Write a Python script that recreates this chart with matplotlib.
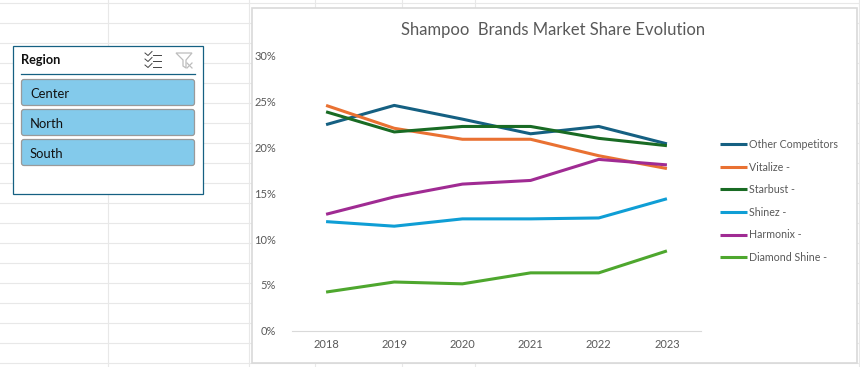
import matplotlib
matplotlib.use('Agg')
import matplotlib.pyplot as plt
from matplotlib.patches import Rectangle, FancyBboxPatch, Polygon
from matplotlib.ticker import PercentFormatter

years = ['2018', '2019', '2020', '2021', '2022', '2023']
other = [22.5, 24.6, 23.1, 21.5, 22.3, 20.4]
vitalize = [24.6, 22.1, 20.9, 20.9, 19.1, 17.7]
starbust = [23.9, 21.7, 22.3, 22.3, 21.0, 20.2]
shinez = [11.9, 11.4, 12.2, 12.2, 12.3, 14.4]
harmonix = [12.7, 14.6, 16.0, 16.4, 18.7, 18.1]
diamond = [4.2, 5.3, 5.1, 6.3, 6.3, 8.7]
series_names = ['Other Competitors', 'Vitalize -', 'Starbust -', 'Shinez -', 'Harmonix -', 'Diamond Shine -']
regions = ['Center', 'North', 'South']

colors = ['#156082', '#E97132', '#196B24', '#0F9ED5', '#A02B93', '#4EA72E']
W, H = 860, 367
GREY = '#595959'

plt.rcParams['font.family'] = ['Lato', 'DejaVu Sans']
fig = plt.figure(figsize=(W / 100, H / 100), dpi=100)

# whole figure in pixels, y going down, for the sheet and the slicer
bg = fig.add_axes([0, 0, 1, 1])
bg.set_xlim(0, W)
bg.set_ylim(H, 0)
bg.axis('off')

for y in range(2, H, 20):
    bg.plot([0, W], [y + 0.5, y + 0.5], color='#E8E8E8', lw=0.8, zorder=1)
for x in [107, 248, 314, 401, 474, 858]:
    bg.plot([x + 0.5, x + 0.5], [0, H], color='#E8E8E8', lw=0.8, zorder=1)

# chart area
bg.add_patch(Rectangle((251.5, 7.5), 605, 355, fc='white', ec='#D9D9D9', lw=1.2, zorder=2))
bg.text(553.5, 30, 'Shampoo  Brands Market Share Evolution', ha='center', va='center',
        fontsize=12, color=GREY, zorder=3)

# slicer
bg.add_patch(Rectangle((12.5, 45.5), 190.5, 148, fc='white', ec='#156082', lw=0.9, zorder=2))
bg.text(21, 60.5, 'Region', ha='left', va='center', fontsize=9.2, fontweight='bold', color='#111111', zorder=3)
bg.plot([21, 195], [73.5, 73.5], color='#156082', lw=0.9, zorder=3)
for i, name in enumerate(regions):
    top = 79.5 + i * 30
    bg.add_patch(FancyBboxPatch((21.5, top), 173, 26, boxstyle='round,pad=0,rounding_size=2.5',
                                fc='#83CAEB', ec='#9A9A9A', lw=0.9, zorder=3))
    bg.text(30, top + 14, name, ha='left', va='center', fontsize=9.4, color='#111111', zorder=4)

# select icon
for y in [54.5, 60.5, 66.5]:
    bg.plot([145, 148, 152], [y - 1.5, y + 1, y - 3], color='#444444', lw=0.7, zorder=3)
    bg.plot([153, 161], [y, y], color='#444444', lw=0.7, zorder=3)
# clear filter icon
bg.add_patch(Polygon([(176, 53), (192, 53), (186, 60), (186, 68), (183, 66), (183, 60)],
                     closed=True, fc='white', ec='#BDBDBD', lw=0.9, zorder=3))
bg.plot([187, 192], [63, 68], color='#BDBDBD', lw=0.9, zorder=4)
bg.plot([192, 187], [63, 68], color='#BDBDBD', lw=0.9, zorder=4)

# the line chart
left, right, top, bottom = 292, 701, 56, 330.5
ax = fig.add_axes([left / W, 1 - bottom / H, (right - left) / W, (bottom - top) / H])
ax.patch.set_alpha(0)
series = [other, vitalize, starbust, shinez, harmonix, diamond]
for vals, name, c in zip(series, series_names, colors):
    ax.plot(years, vals, color=c, lw=2.2, label=name, solid_capstyle='butt', solid_joinstyle='round')

ax.set_xlim(-0.5, 5.5)
ax.set_ylim(0, 30)
ax.set_yticks([0, 5, 10, 15, 20, 25, 30])
ax.yaxis.set_major_formatter(PercentFormatter(decimals=0))
for s in ['top', 'right', 'left']:
    ax.spines[s].set_visible(False)
ax.spines['bottom'].set_color('#D9D9D9')
ax.tick_params(axis='both', length=0, colors=GREY, labelsize=8)
ax.tick_params(axis='x', pad=6)
ax.tick_params(axis='y', pad=11.5)

fig.legend(loc='center left', bbox_to_anchor=(710 / W, 1 - 201 / H), frameon=False, fontsize=7.7,
           labelcolor=GREY, handlelength=2.6, handletextpad=0.15, labelspacing=1.08)

fig.savefig('out.png', dpi=100)
